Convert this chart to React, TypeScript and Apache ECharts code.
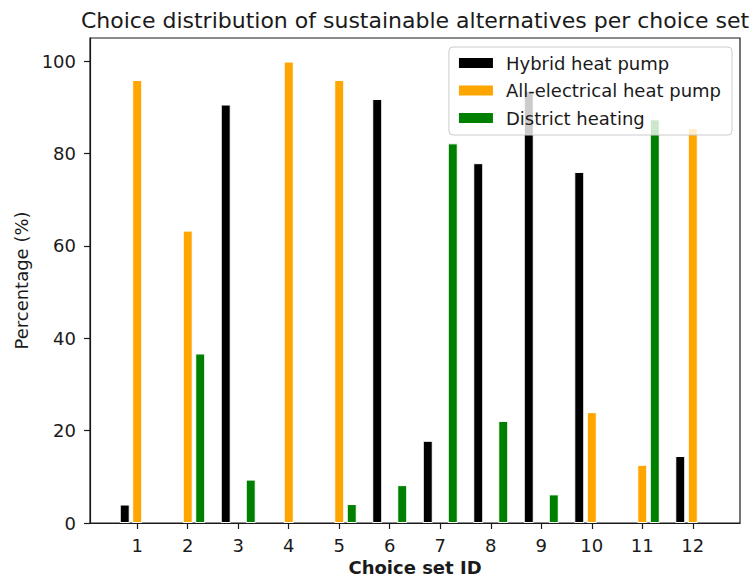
import React, { useEffect, useRef } from "react";
import * as echarts from "echarts";

// Choice set IDs and the share (%) of respondents choosing each alternative
const choiceSets = [1, 2, 3, 4, 5, 6, 7, 8, 9, 10, 11, 12];
const hybridHeatPump = [4.0, 0, 90.6, 0, 0, 91.8, 17.8, 77.9, 93.6, 76.0, 0, 14.5];
const allElectricalHeatPump = [95.9, 63.3, 0, 99.9, 95.9, 0, 0, 0, 0, 24.0, 12.6, 85.5];
const districtHeating = [0, 36.7, 9.4, 0, 4.1, 8.2, 82.2, 22.1, 6.2, 0, 87.4, 0];
const yTicks = [0, 20, 40, 60, 80, 100];

const FONT = "'DejaVu Sans', 'Liberation Sans', sans-serif";
const INK = "#1a1a1a";

function toBarData(values: number[]) {
  return values.map((v, i) => ({
    value: [choiceSets[i], v],
    // empty bars get no edge so they leave the axis line untouched
    itemStyle: v === 0 ? { borderWidth: 0 } : undefined,
  }));
}

export default function App() {
  const ref = useRef<HTMLDivElement>(null);

  useEffect(() => {
    if (!ref.current) return;
    const chart = echarts.init(ref.current, null, { renderer: "svg" });

    const barBase = {
      type: "bar" as const,
      barWidth: 10,
      barGap: "25%",
      itemStyle: { borderColor: "#ffffff", borderWidth: 1 },
      emphasis: { disabled: true },
    };

    chart.setOption({
      animation: false,
      textStyle: { fontFamily: FONT },
      graphic: [
        {
          type: "text",
          x: 415,
          y: 20,
          style: {
            text: "Choice distribution of sustainable alternatives per choice set",
            font: `22px ${FONT}`,
            fill: INK,
            align: "center",
            verticalAlign: "middle",
          },
        },
      ],
      grid: {
        left: 90,
        right: 10,
        top: 38,
        bottom: 54,
        outerBoundsMode: "none",
        containLabel: false,
        show: true,
        borderColor: INK,
        borderWidth: 1.2,
        backgroundColor: "transparent",
      },
      legend: {
        right: 18,
        top: 47,
        orient: "vertical",
        selectedMode: false,
        z: 10,
        itemWidth: 36,
        itemHeight: 12,
        itemGap: 9.5,
        padding: [7, 11, 8, 8],
        backgroundColor: "rgba(255,255,255,0.8)",
        borderColor: "#cccccc",
        borderWidth: 1,
        borderRadius: 4,
        icon: "rect",
        textStyle: {
          fontFamily: FONT,
          fontSize: 18,
          color: INK,
          padding: [0, 0, 0, 7],
        },
        data: ["Hybrid heat pump", "All-electrical heat pump", "District heating"],
      },
      xAxis: {
        type: "value",
        min: 0.065,
        max: 12.935,
        name: "Choice set ID",
        nameLocation: "middle",
        nameGap: 34,
        nameTextStyle: {
          fontFamily: FONT,
          fontSize: 18,
          lineHeight: 18,
          fontWeight: "bold",
          color: INK,
        },
        axisLine: { show: true, lineStyle: { color: INK, width: 1.2 } },
        axisTick: {
          show: true,
          length: 6,
          customValues: choiceSets,
          lineStyle: { color: INK, width: 1.2 },
        },
        axisLabel: {
          show: true,
          margin: 13,
          customValues: choiceSets,
          fontFamily: FONT,
          fontSize: 18,
          color: INK,
          formatter: (v: number) => String(Math.round(v)),
        },
        splitLine: { show: false },
      },
      yAxis: {
        type: "value",
        min: 0,
        max: 105,
        name: "Percentage (%)",
        nameLocation: "middle",
        nameRotate: 90,
        nameGap: 56,
        nameTextStyle: { fontFamily: FONT, fontSize: 18, color: INK },
        axisLine: { show: true, lineStyle: { color: INK, width: 1.2 } },
        axisTick: {
          show: true,
          length: 6,
          customValues: yTicks,
          lineStyle: { color: INK, width: 1.2 },
        },
        axisLabel: {
          show: true,
          margin: 14,
          customValues: yTicks,
          fontFamily: FONT,
          fontSize: 18,
          color: INK,
        },
        splitLine: { show: false },
      },
      series: [
        { ...barBase, name: "Hybrid heat pump", color: "#000000", data: toBarData(hybridHeatPump) },
        { ...barBase, name: "All-electrical heat pump", color: "#ffa500", data: toBarData(allElectricalHeatPump) },
        { ...barBase, name: "District heating", color: "#008000", data: toBarData(districtHeating) },
      ],
    });

    return () => chart.dispose();
  }, []);

  return (
    <div
      ref={ref}
      style={{ position: "fixed", left: 0, top: 0, width: 750, height: 577, background: "#ffffff" }}
    />
  );
}
